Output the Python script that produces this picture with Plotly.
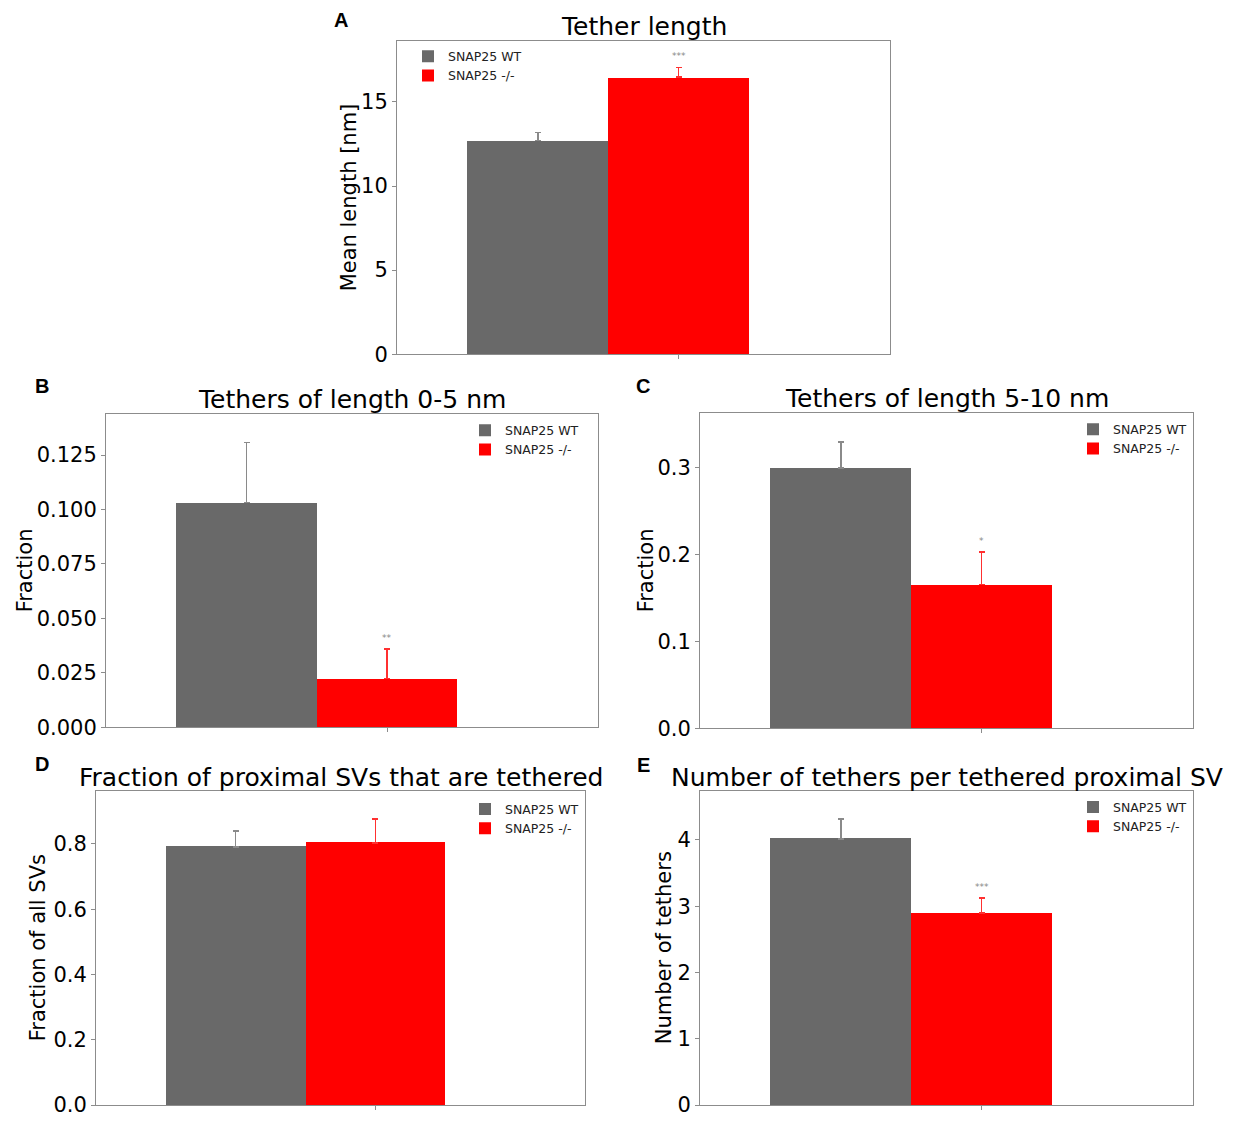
import plotly.graph_objects as go

W, H = 1241, 1126

# ---------------- data ----------------
panel_letters = ["A", "B", "C", "D", "E"]
panel_titles = [
    "Tether length",
    "Tethers of length 0-5 nm",
    "Tethers of length 5-10 nm",
    "Fraction of proximal SVs that are tethered",
    "Number of tethers per tethered proximal SV",
]
y_labels = ["Mean length [nm]", "Fraction", "Fraction", "Fraction of all SVs", "Number of tethers"]
groups = ["SNAP25 WT", "SNAP25 -/-"]
wt_mean = [12.70, 0.1032, 0.300, 0.791, 4.015]
wt_err = [0.47, 0.0277, 0.0296, 0.048, 0.30]
ko_mean = [16.47, 0.0223, 0.1653, 0.803, 2.896]
ko_err = [0.59, 0.0136, 0.0376, 0.073, 0.224]
significance = ["***", "**", "*", "", "***"]
y_tickvals = [
    [0, 5, 10, 15],
    [0.0, 0.025, 0.05, 0.075, 0.1, 0.125],
    [0.0, 0.1, 0.2, 0.3],
    [0.0, 0.2, 0.4, 0.6, 0.8],
    [0, 1, 2, 3, 4],
]
y_tickformat = ["d", ".3f", ".1f", ".1f", "d"]
y_max = [18.65, 0.1441, 0.3637, 0.9606, 4.73]

# ---------------- layout (pixels in the screenshot) ----------------
# plot-area boxes: left, right, top, bottom
boxes = [
    (397, 890, 41, 358),
    (106, 598, 418, 735),
    (700, 1193, 417, 736),
    (96, 585, 800, 1117),
    (700, 1193, 800, 1117),
]
letter_pos = [(341, 20), (42, 390), (643, 390), (42, 772), (643, 773)]
title_y = [27, 404, 403, 786, 786]
ylabel_x = [349, 25, 646, 38, 664]
legend_pos = [(408, 42), (465, 420), (1073, 419), (465, 803), (1073, 801)]

FONT = "DejaVu Sans"
GRAY = "#696969"
RED = "#ff0000"
SPINE = "#8c8c8c"


def px(x):
    return x / W


def py(y):
    return 1 - y / H


fig = go.Figure()
annotations = []

for i in range(5):
    n = "" if i == 0 else str(i + 1)
    xa, ya = "x" + n, "y" + n
    leg = "legend" if i == 0 else "legend" + str(i + 1)
    l, r, t, b = boxes[i]
    fig.add_trace(go.Bar(
        x=[0], y=[wt_mean[i]], width=1, name=groups[0],
        marker=dict(color=GRAY, line=dict(width=0)),
        error_y=dict(type="data", symmetric=False, array=[wt_err[i]], arrayminus=[0],
                     color="#8a8a8a", thickness=1.5, width=3),
        xaxis=xa, yaxis=ya, legend=leg, showlegend=True,
    ))
    fig.add_trace(go.Bar(
        x=[1], y=[ko_mean[i]], width=1, name=groups[1],
        marker=dict(color=RED, line=dict(width=0)),
        error_y=dict(type="data", symmetric=False, array=[ko_err[i]], arrayminus=[0],
                     color="#ff3030", thickness=1.5, width=3),
        xaxis=xa, yaxis=ya, legend=leg, showlegend=True,
    ))
    axis_common = dict(showline=True, mirror=True, linecolor=SPINE, linewidth=1,
                       showgrid=False, zeroline=False, ticks="outside", ticklen=4,
                       tickcolor=SPINE, tickfont=dict(family=FONT, size=21, color="black"))
    fig.layout["xaxis" + n] = dict(
        domain=[px(l), px(r)], range=[-1.0, 2.5], anchor=ya,
        tickvals=[1], ticktext=[""], fixedrange=True, **axis_common)
    fig.layout["yaxis" + n] = dict(
        domain=[py(b), py(t)], range=[0, y_max[i]], anchor=xa,
        tickvals=y_tickvals[i], tickformat=y_tickformat[i], **axis_common)
    lx, ly = legend_pos[i]
    fig.layout[leg] = dict(
        x=px(lx), y=py(ly), xanchor="left", yanchor="top",
        xref="paper", yref="paper",
        bgcolor="rgba(0,0,0,0)", borderwidth=0,
        font=dict(family=FONT, size=12.5, color="#222222"),
        tracegroupgap=0, itemwidth=30,
    )
    # panel title
    annotations.append(dict(
        text=panel_titles[i], x=px((l + r) / 2), y=py(title_y[i]), xref="paper", yref="paper",
        xanchor="center", yanchor="middle", showarrow=False,
        font=dict(family=FONT, size=25, color="black")))
    # panel letter
    annotations.append(dict(
        text="<b>" + panel_letters[i] + "</b>", x=px(letter_pos[i][0]), y=py(letter_pos[i][1]),
        xref="paper", yref="paper", xanchor="center", yanchor="middle", showarrow=False,
        font=dict(family="Liberation Sans", size=20, color="black")))
    # y label
    annotations.append(dict(
        text=y_labels[i], x=px(ylabel_x[i]), y=py((t + b) / 2), xref="paper", yref="paper",
        xanchor="center", yanchor="middle", textangle=-90, showarrow=False,
        font=dict(family=FONT, size=21, color="black")))
    # significance
    if significance[i]:
        annotations.append(dict(
            text=significance[i], x=1, y=ko_mean[i] + ko_err[i], xref=xa, yref=ya,
            xanchor="center", yanchor="middle", yshift=11, showarrow=False,
            font=dict(family=FONT, size=9, color="#888888")))

fig.update_layout(
    width=W, height=H, margin=dict(l=0, r=0, t=0, b=0),
    paper_bgcolor="white", plot_bgcolor="white",
    barmode="overlay", bargap=0,
    annotations=annotations,
    font=dict(family=FONT),
)

# remove the browser's default page margin so the figure fills the window exactly
fig.write_html(
    "out.html",
    config={"displayModeBar": False},
    post_script="document.body.style.margin='0';document.body.style.overflow='hidden';",
)
